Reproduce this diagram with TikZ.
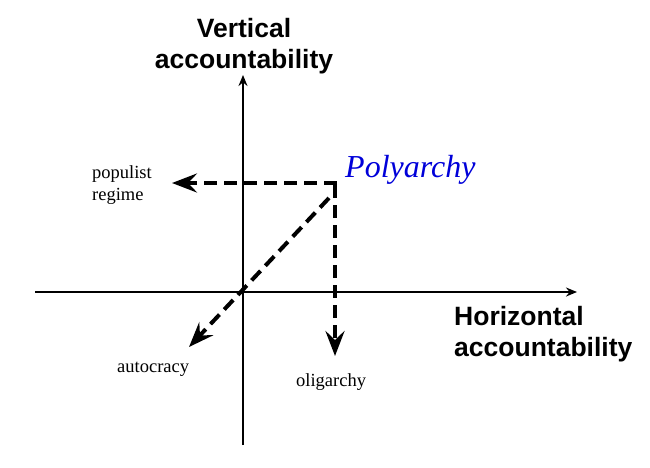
\documentclass[tikz,border=0pt]{standalone}
\usepackage{fontspec}
\setmainfont{Liberation Serif}
\newfontfamily\headfont{Liberation Sans}
\usetikzlibrary{arrows.meta}
\begin{document}
\begin{tikzpicture}[x=1pt,y=-1pt,
  axis/.style={line width=1.8pt,-{Stealth[length=11pt,width=9pt]}},
  departure/.style={line width=4pt,dash pattern=on 13pt off 7pt,
    -{Stealth[length=25pt,width=19pt,inset=9pt]}},
  axislabel/.style={inner sep=0pt,font=\headfont\bfseries\fontsize{26.5}{31}\selectfont},
  regime/.style={inner sep=0pt,font=\fontsize{18.5}{22}\selectfont},
  ideal/.style={inner sep=0pt,text=blue!85!black,font=\itshape\fontsize{32}{36}\selectfont}]
\useasboundingbox (0,0) rectangle (650,467);

% axes
\coordinate (vlo) at (243,445);
\coordinate (vhi) at (243,75);
\coordinate (hlo) at (35,292);
\coordinate (hhi) at (577,292);
\draw[axis] (vlo) -- (vhi);
\draw[axis] (hlo) -- (hhi);

% axis titles
\node[axislabel,align=center] (vtitle) at (244,46) {Vertical\\accountability};
\node[axislabel,align=left,anchor=west] (htitle) at (454,334) {Horizontal\\accountability};

% ideal type and its departures
\node[ideal,anchor=base west] (poly) at (345,177) {Polyarchy};
\coordinate (corner) at (335,183);
\coordinate (diagstart) at (329,198);

\node[regime,align=left,anchor=west] (populist) at (92,185) {populist\\regime};
\node[regime,anchor=base west] (autocracy) at (117,372) {autocracy};
\node[regime,anchor=base west] (oligarchy) at (296,386) {oligarchy};

\coordinate (toPop) at (172,183);
\coordinate (toOli) at (335,356);
\coordinate (toAut) at (189,347);

\draw[departure] ([xshift=2pt]corner) -- (toPop);
\draw[departure] ([yshift=-2pt]corner) -- (toOli);
\draw[departure] (diagstart) -- (toAut);
\end{tikzpicture}
\end{document}
